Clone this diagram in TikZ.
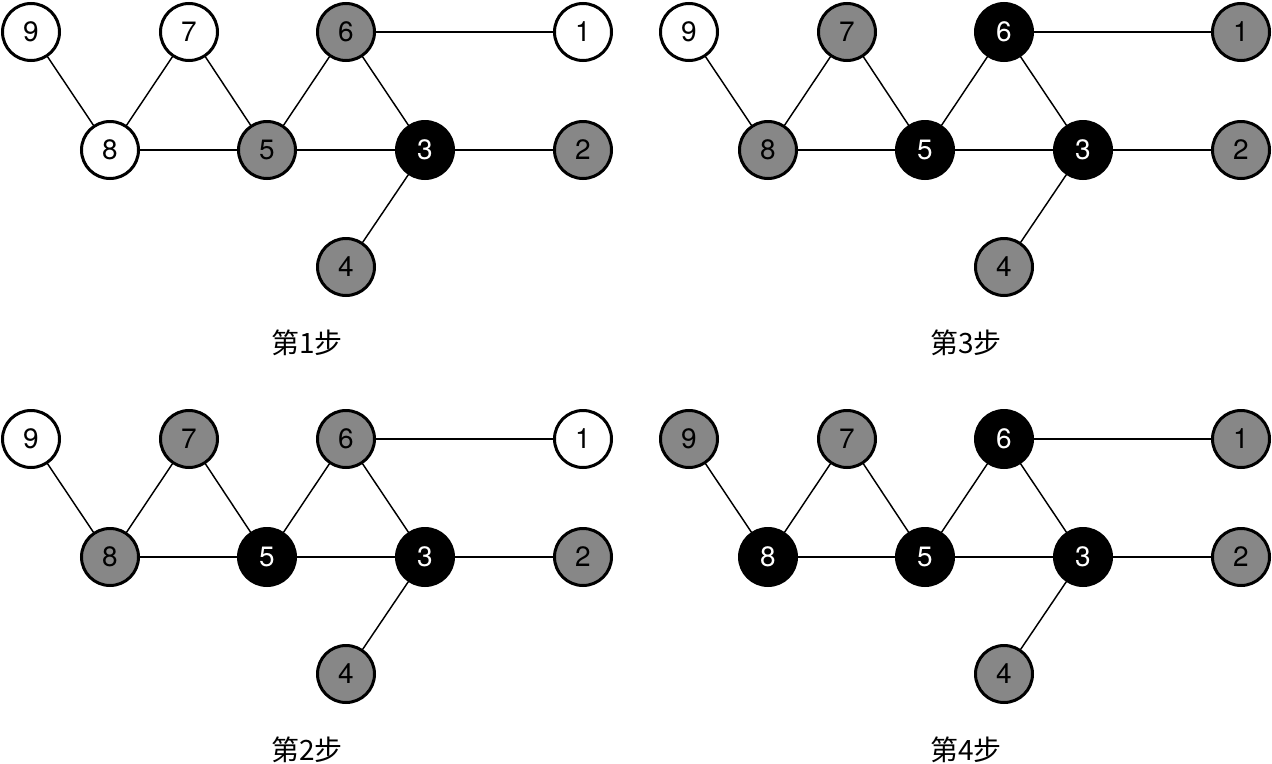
\documentclass[tikz,border=0pt]{standalone}
\usepackage{fontspec}
\setmainfont{TeX Gyre Heros}
\newfontfamily\cjk{Noto Sans CJK SC}
\definecolor{nodegray}{RGB}{135,135,135}
\tikzset{
  vtx/.style={circle, draw=black, line width=2.25pt, minimum size=42.75pt, inner sep=0pt,
    font=\fontsize{21}{24}\selectfont},
  wn/.style={vtx, fill=white, text=black},
  gn/.style={vtx, fill=nodegray, text=black},
  bn/.style={vtx, fill=black, text=white},
  edge/.style={line width=1.1pt, black},
  steplabel/.style={font=\cjk\fontsize{21}{24}\selectfont, inner sep=0pt}
}
\newcommand{\graphpanel}[4]{%
  % #1 prefix, #2 dx, #3 dy, #4 node list n/x/y/style
  \begin{scope}[shift={(#2,#3)}]
    \foreach \n/\px/\py/\s in {#4} {\node[\s] (#1\n) at (\px,\py) {\n};}
    \foreach \u/\v in {9/8,8/7,7/5,8/5,5/6,6/1,6/3,5/3,3/2,3/4}
      {\draw[edge] (#1\u) -- (#1\v);}
  \end{scope}}
\begin{document}
\begin{tikzpicture}[x=0.75pt,y=-0.75pt]
\useasboundingbox (0,0) rectangle (1272,764);
\graphpanel{a}{0}{0}{9/31/32/wn,7/189/32/wn,6/346/32/gn,1/583/32/wn,8/110/150/wn,5/267/150/gn,3/425/150/bn,2/583/150/gn,4/346/267/gn}
\graphpanel{c}{658}{0}{9/31/32/wn,7/189/32/gn,6/346/32/bn,1/583/32/gn,8/110/150/gn,5/267/150/bn,3/425/150/bn,2/583/150/gn,4/346/267/gn}
\graphpanel{b}{0}{407}{9/31/32/wn,7/189/32/gn,6/346/32/gn,1/583/32/wn,8/110/150/gn,5/267/150/bn,3/425/150/bn,2/583/150/gn,4/346/267/gn}
\graphpanel{d}{658}{407}{9/31/32/gn,7/189/32/gn,6/346/32/bn,1/583/32/gn,8/110/150/bn,5/267/150/bn,3/425/150/bn,2/583/150/gn,4/346/267/gn}
\node[steplabel] (la) at (307,343) {第1步};
\node[steplabel] (lc) at (966,343) {第3步};
\node[steplabel] (lb) at (307,750) {第2步};
\node[steplabel] (ld) at (966,750) {第4步};
\end{tikzpicture}
\end{document}
